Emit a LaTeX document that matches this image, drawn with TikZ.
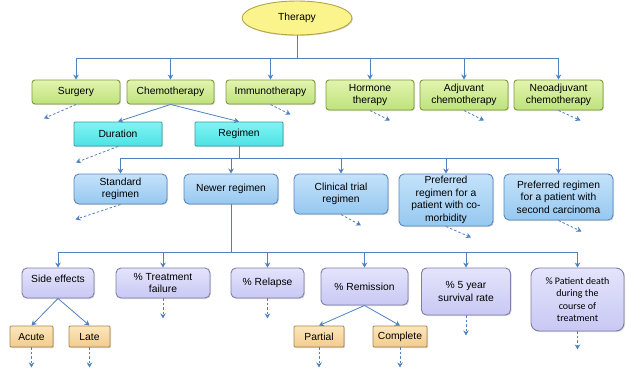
\documentclass[tikz,border=0pt]{standalone}
\usepackage{fontspec}
\setmainfont{Liberation Sans}
\newfontfamily\calibri{Carlito}
\usetikzlibrary{arrows.meta,shapes.geometric,shadows}

\definecolor{arrowblue}{HTML}{4F81BD}
\definecolor{yellowfill}{HTML}{FBF38C}
\definecolor{yellowline}{HTML}{B3A544}
\definecolor{greentop}{HTML}{E2F4AE}
\definecolor{greenbot}{HTML}{BEE27C}
\definecolor{greenline}{HTML}{7F9A3C}
\definecolor{cyantop}{HTML}{7FF4F4}
\definecolor{cyanbot}{HTML}{4EE2E4}
\definecolor{cyanline}{HTML}{3A9CA0}
\definecolor{bluetop}{HTML}{C4E2FA}
\definecolor{bluebot}{HTML}{96C8F0}
\definecolor{blueline}{HTML}{5A88BA}
\definecolor{lavtop}{HTML}{E4E4FC}
\definecolor{lavbot}{HTML}{C8C8F4}
\definecolor{lavline}{HTML}{7E7EA8}
\definecolor{orangetop}{HTML}{FCE6BC}
\definecolor{orangebot}{HTML}{F2CC8C}
\definecolor{orangeline}{HTML}{A8844C}

\tikzset{
  box/.style={draw, line width=0.9pt, inner sep=1pt, align=center,
    font=\fontsize{10.3}{12.5}\selectfont,
    drop shadow={shadow xshift=1pt,shadow yshift=-1pt,opacity=0.3}},
  greenbox/.style={box, rounded corners=3pt, draw=greenline, top color=greentop, bottom color=greenbot},
  cyanbox/.style={box, rounded corners=1pt, draw=cyanline, top color=cyantop, bottom color=cyanbot},
  bluebox/.style={box, rounded corners=5pt, draw=blueline, top color=bluetop, bottom color=bluebot},
  lavbox/.style={box, rounded corners=5pt, draw=lavline, top color=lavtop, bottom color=lavbot},
  orangebox/.style={box, rounded corners=1pt, draw=orangeline, top color=orangetop, bottom color=orangebot},
  bus/.style={arrowblue, line width=0.8pt},
  link/.style={bus, -{Stealth[length=5pt,width=5.5pt]}},
  hint/.style={link, dashed, dash pattern=on 2.5pt off 2pt},
}

\begin{document}
\begin{tikzpicture}[x=1pt,y=-1pt]
  \useasboundingbox (0,0) rectangle (626,368);

  \node[ellipse, draw=yellowline, fill=yellowfill, line width=0.9pt, minimum width=110, minimum height=34,
    inner sep=0pt, font=\fontsize{10.3}{12.5}\selectfont,
    drop shadow={shadow xshift=1pt,shadow yshift=-1pt,opacity=0.3}] (therapy) at (297,18) {Therapy};

  \node[greenbox, minimum width=88, minimum height=24] (surg) at (76,92) {Surgery};
  \node[greenbox, minimum width=87, minimum height=24] (chemo) at (170.5,92) {Chemotherapy};
  \node[greenbox, minimum width=89, minimum height=24] (immuno) at (270.5,92) {Immunotherapy};
  \node[greenbox, minimum width=88, minimum height=30] (hormone) at (370,95) {Hormone\\therapy};
  \node[greenbox, minimum width=88, minimum height=30] (adjuv) at (464,95) {Adjuvant\\chemotherapy};
  \node[greenbox, minimum width=89, minimum height=30] (neo) at (558.5,95) {Neoadjuvant\\chemotherapy};

  \node[cyanbox, minimum width=88, minimum height=24] (dur) at (118,134) {Duration};
  \node[cyanbox, minimum width=88, minimum height=24] (reg) at (239,134) {Regimen};

  \node[bluebox, minimum width=93, minimum height=30] (std) at (120.5,189) {Standard\\regimen};
  \node[bluebox, minimum width=94, minimum height=30] (newer) at (231,189) {Newer regimen};
  \node[bluebox, minimum width=94, minimum height=40] (clin) at (341,194) {Clinical trial\\regimen};
  \node[bluebox, minimum width=94, minimum height=52] (pcom) at (446,200) {Preferred\\regimen for a\\patient with co-\\morbidity};
  \node[bluebox, minimum width=109, minimum height=46] (psec) at (558.5,197) {Preferred regimen\\for a patient with\\second carcinoma};

  \node[lavbox, minimum width=72, minimum height=30, text depth=9pt] (side) at (58,283) {Side effects};
  \node[lavbox, minimum width=94, minimum height=30] (tfail) at (163,283) {\% Treatment\\failure};
  \node[lavbox, minimum width=73, minimum height=30] (relapse) at (267.5,283) {\% Relapse};
  \node[lavbox, minimum width=87, minimum height=37] (remis) at (364.5,286.5) {\% Remission};
  \node[lavbox, minimum width=89, minimum height=47] (five) at (466,291.5) {\% 5 year\\survival rate};
  \node[lavbox, rounded corners=8pt, minimum width=93, minimum height=63,
    font=\calibri\fontsize{10}{12.5}\selectfont] (death) at (577.5,299.5) {\% Patient death\\during the\\course of\\treatment};

  \node[orangebox, minimum width=43, minimum height=21] (acute) at (31.5,336.5) {Acute};
  \node[orangebox, minimum width=41, minimum height=21] (late) at (89.5,336.5) {Late};
  \node[orangebox, minimum width=50, minimum height=21] (partial) at (319,336.5) {Partial};
  \node[orangebox, minimum width=54, minimum height=21] (compl) at (400,336.5) {Complete};

  \coordinate (b1) at (297,58);
  \draw[bus] (therapy.south) -- (b1);
  \draw[bus] (b1 -| surg) -- (b1 -| neo);
  \foreach \n in {surg,chemo,immuno,hormone,adjuv,neo}
    \draw[link] (b1 -| \n) -- (\n.north);

  \draw[link] (chemo.south) -- (dur.north);
  \draw[link] (chemo.south) -- (reg.north);

  \coordinate (b2) at (239,158);
  \draw[bus] (reg.south) -- (b2);
  \draw[bus] (b2 -| std) -- (b2 -| psec);
  \foreach \n in {std,newer,clin,pcom,psec}
    \draw[link] (b2 -| \n) -- (\n.north);

  \coordinate (b3) at (231,252);
  \draw[bus] (newer.south) -- (b3);
  \draw[bus] (b3 -| side) -- (b3 -| death);
  \foreach \n in {side,tfail,relapse,remis,five,death}
    \draw[link] (b3 -| \n) -- (\n.north);

  \draw[link] (side.south) -- (acute.north);
  \draw[link] (side.south) -- (late.north);
  \draw[link] (remis.south) -- (partial.north);
  \draw[link] (remis.south) -- (compl.north);

  \foreach \n/\dx/\dy in {surg/-32/14, immuno/20/10, hormone/20/10, adjuv/20/10, neo/22/10,
      dur/-42/16, std/-45/15, clin/20/11, pcom/25/11, psec/23/11,
      tfail/0/20, relapse/0/20, five/0/20, death/0/18,
      acute/0/20, late/0/20, partial/0/20, compl/0/20}
    \draw[hint] (\n.south) -- ++(\dx,\dy);
\end{tikzpicture}
\end{document}
